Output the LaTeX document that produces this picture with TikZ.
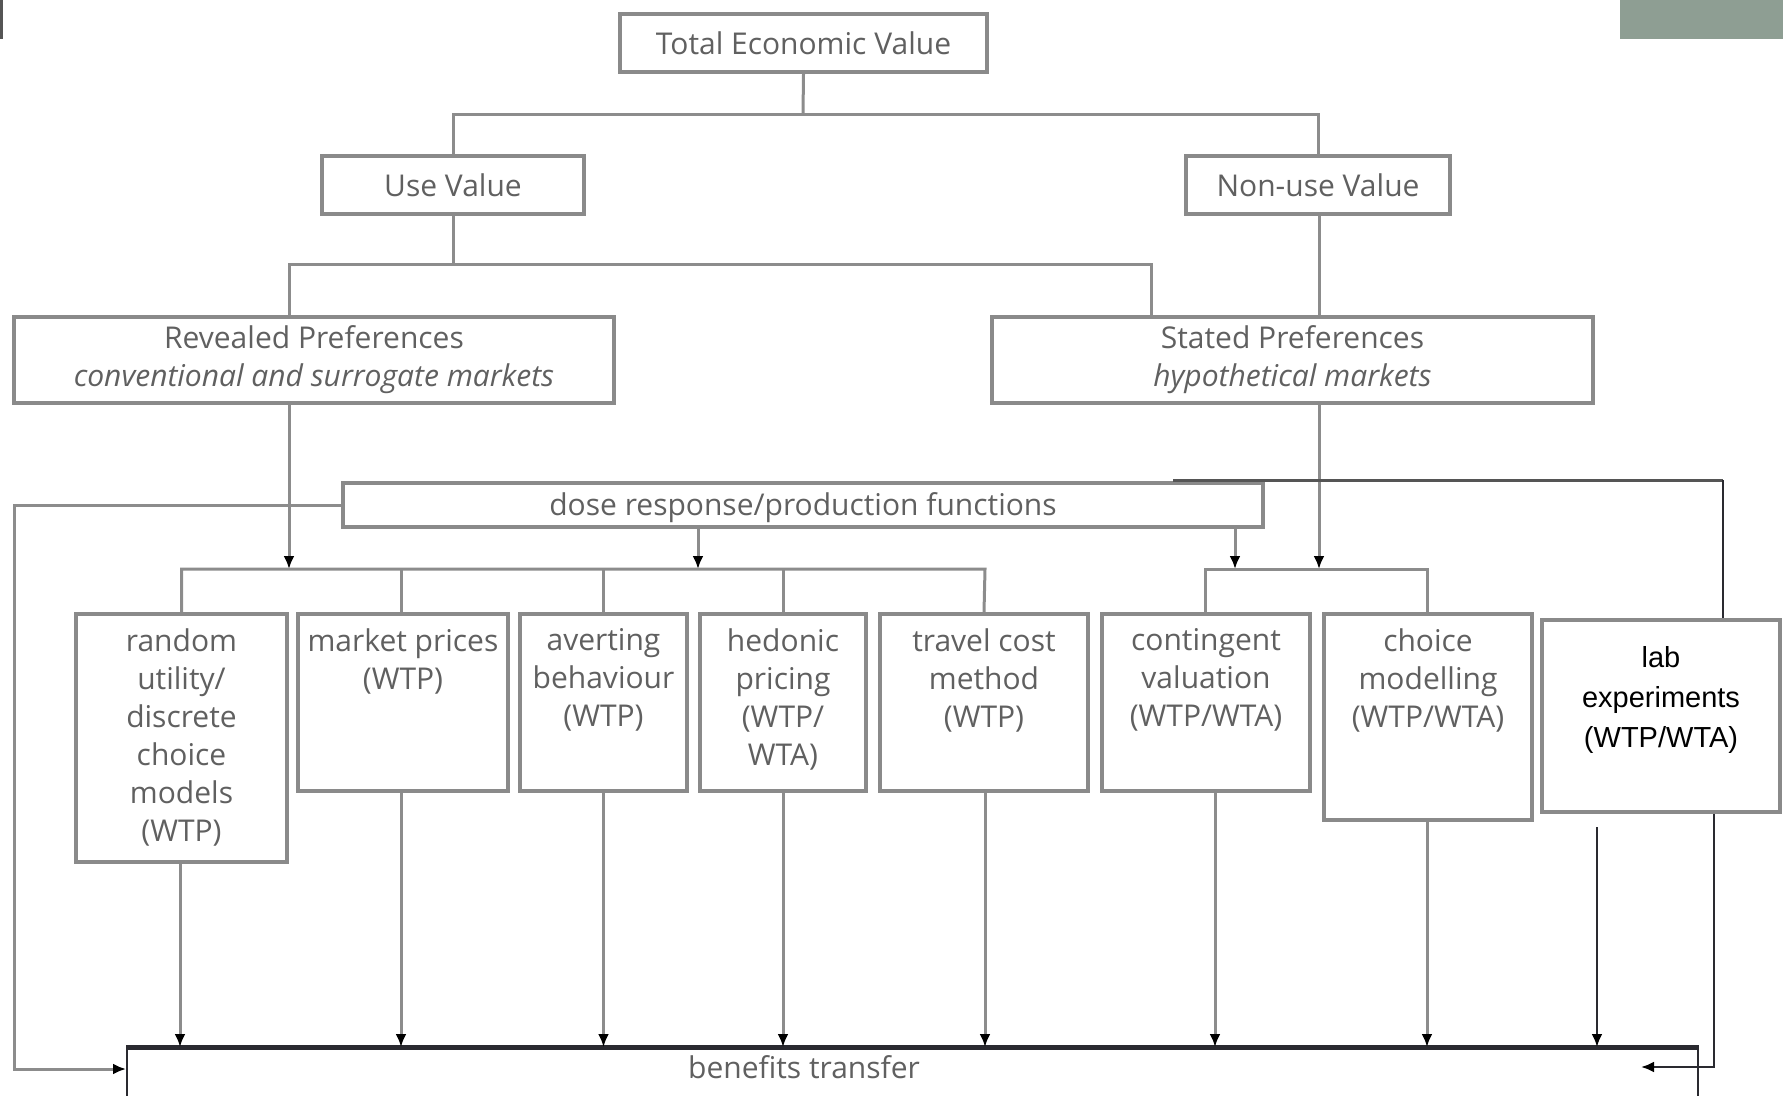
\documentclass[tikz,border=0pt]{standalone}
\usepackage{fontspec}
\setmainfont{Open Sans}
\newfontfamily\labfont{Liberation Sans}
\usetikzlibrary{arrows.meta}
\definecolor{ln}{HTML}{8C8C8C}
\definecolor{bx}{HTML}{8A8A8A}
\definecolor{tx}{HTML}{606060}
\definecolor{dk}{HTML}{2A2A30}
\definecolor{dg}{HTML}{555555}
\definecolor{gb}{HTML}{8E9E93}
\begin{document}
\begin{tikzpicture}[x=1pt,y=-1pt,
  box/.style={draw=bx, line width=3.5pt, fill=white, inner sep=0pt},
  txt/.style={text=tx, font=\fontsize{30}{38}\selectfont, align=center, inner sep=0pt},
  con/.style={draw=ln, line width=3pt},
  arr/.style={con, -{Latex[length=13pt,width=11pt,color=black]}},
  darr/.style={draw=dk, line width=2.5pt, -{Latex[length=13pt,width=11pt,color=black]}},
]
\useasboundingbox (0,0) rectangle (1783,1095);
\fill[gb] (1620,0) rectangle (1783,39);
\fill[dg] (0,0) rectangle (3,39);

% top level
\node[box, txt, minimum width=367, minimum height=58] (tev) at (803.5,43) {Total Economic Value};
\node[box, txt, minimum width=262, minimum height=58] (use) at (453,185) {Use Value};
\node[box, txt, minimum width=264, minimum height=58] (nonuse) at (1318,185) {Non-use Value};
\node[box, txt, minimum width=600, minimum height=86] (rev) at (314,360) {Revealed Preferences\\\textit{conventional and surrogate markets}};
\node[box, txt, minimum width=601, minimum height=86] (sta) at (1292.5,360) {Stated Preferences\\\textit{hypothetical markets}};
\node[box, minimum width=920, minimum height=44] (dose) at (803,505) {};
\node[txt] at (803,508) {dose response/production functions};

% method boxes
\node[box, minimum width=211, minimum height=248] (rnd) at (181.5,738) {};
\node[box, minimum width=210, minimum height=177] (mkt) at (403,702.5) {};
\node[box, minimum width=167, minimum height=177] (avt) at (603.5,702.5) {};
\node[box, minimum width=166, minimum height=177] (hed) at (783,702.5) {};
\node[box, minimum width=208, minimum height=177] (trv) at (984,702.5) {};
\node[box, minimum width=208, minimum height=177] (cnt) at (1206,702.5) {};
\node[box, minimum width=208, minimum height=206] (chm) at (1428,717) {};
\node[box, minimum width=238, minimum height=192] (lab) at (1661,716) {};

\node[txt, anchor=north] at (rnd.north |- 0,628) {random\\utility/\\discrete\\choice\\models\\(WTP)};
\node[txt, anchor=north] at (mkt.north |- 0,628) {market prices\\(WTP)};
\node[txt, anchor=north] at (avt.north |- 0,628) {averting\\behaviour\\(WTP)};
\node[txt, anchor=north] at (hed.north |- 0,628) {hedonic\\pricing\\(WTP/\\WTA)};
\node[txt, anchor=north] at (trv.north |- 0,628) {travel cost\\method\\(WTP)};
\node[txt, anchor=north] at (cnt.north |- 0,628) {contingent\\valuation\\(WTP/WTA)};
\node[txt, anchor=north] at (chm.north |- 0,628) {choice\\modelling\\(WTP/WTA)};
\node[txt, text=black, font=\labfont\fontsize{29}{40}\selectfont] at (1661,700) {lab\\experiments\\(WTP/WTA)};

% benefits transfer
\node[draw=dk, line width=2pt, fill=white, inner sep=0pt, minimum width=1571, minimum height=92] (ben) at (912.5,1094) {};
\draw[dk, line width=5pt] (ben.north west) -- (ben.north east);
\node[txt] at (804,1067) {benefits transfer};

% connectors top
\coordinate (b1) at (803,114);
\draw[con] (tev.south) -- (b1);
\draw[con] (use.north) |- (b1) -| (nonuse.north);
\coordinate (b2) at (453,264);
\draw[con] (use.south) -- (b2);
\draw[con] (rev.north -| 289,0) |- (b2) -| (sta.north -| 1151,0);
\draw[con] (nonuse.south -| 1319,0) -- (sta.north -| 1319,0);
\draw[arr] (sta.south -| 1319,0) -- (1319,569);
\draw[arr] (dose.south -| 698,0) -- (698,569);
\draw[arr] (dose.south -| 1235,0) -- (1235,569);
\draw[arr] (rev.south -| 289,0) -- (289,569);

% feedback loops
\draw[con, -{Latex[length=13pt,width=11pt,color=black]}] (dose.west) -| (14,1069) -- (ben.west |- 0,1069);
\draw[draw=dg, line width=3pt] (1173,480) -- (1723,480);
\draw[draw=dk, line width=2.5pt] (1723,480) -- (lab.north -| 1723,0);

% buses to method boxes
\draw[con] (rnd.north) |- (180,569) -- (985,569) -- (trv.north);
\draw[con] (mkt.north -| 401,0) -- (401,569);
\draw[con] (avt.north) -- (avt.north |- 0,569);
\draw[con] (hed.north) -- (hed.north |- 0,569);
\draw[con] (cnt.north -| 1205,0) |- (1427,569) -- (chm.north -| 1427,0);

% arrows to benefits transfer
\draw[arr] (rnd.south -| 180,0) -- (ben.north -| 180,0);
\draw[arr] (mkt.south -| 401,0) -- (ben.north -| 401,0);
\draw[arr] (avt.south) -- (ben.north -| avt.south);
\draw[arr] (hed.south) -- (ben.north -| hed.south);
\draw[arr] (trv.south -| 985,0) -- (ben.north -| 985,0);
\draw[arr] (cnt.south -| 1215,0) -- (ben.north -| 1215,0);
\draw[arr] (chm.south -| 1427,0) -- (ben.north -| 1427,0);
\draw[darr] (1597,827) -- (ben.north -| 1597,0);
\draw[darr] (lab.south -| 1714,0) |- (1641,1067);
\end{tikzpicture}
\end{document}
